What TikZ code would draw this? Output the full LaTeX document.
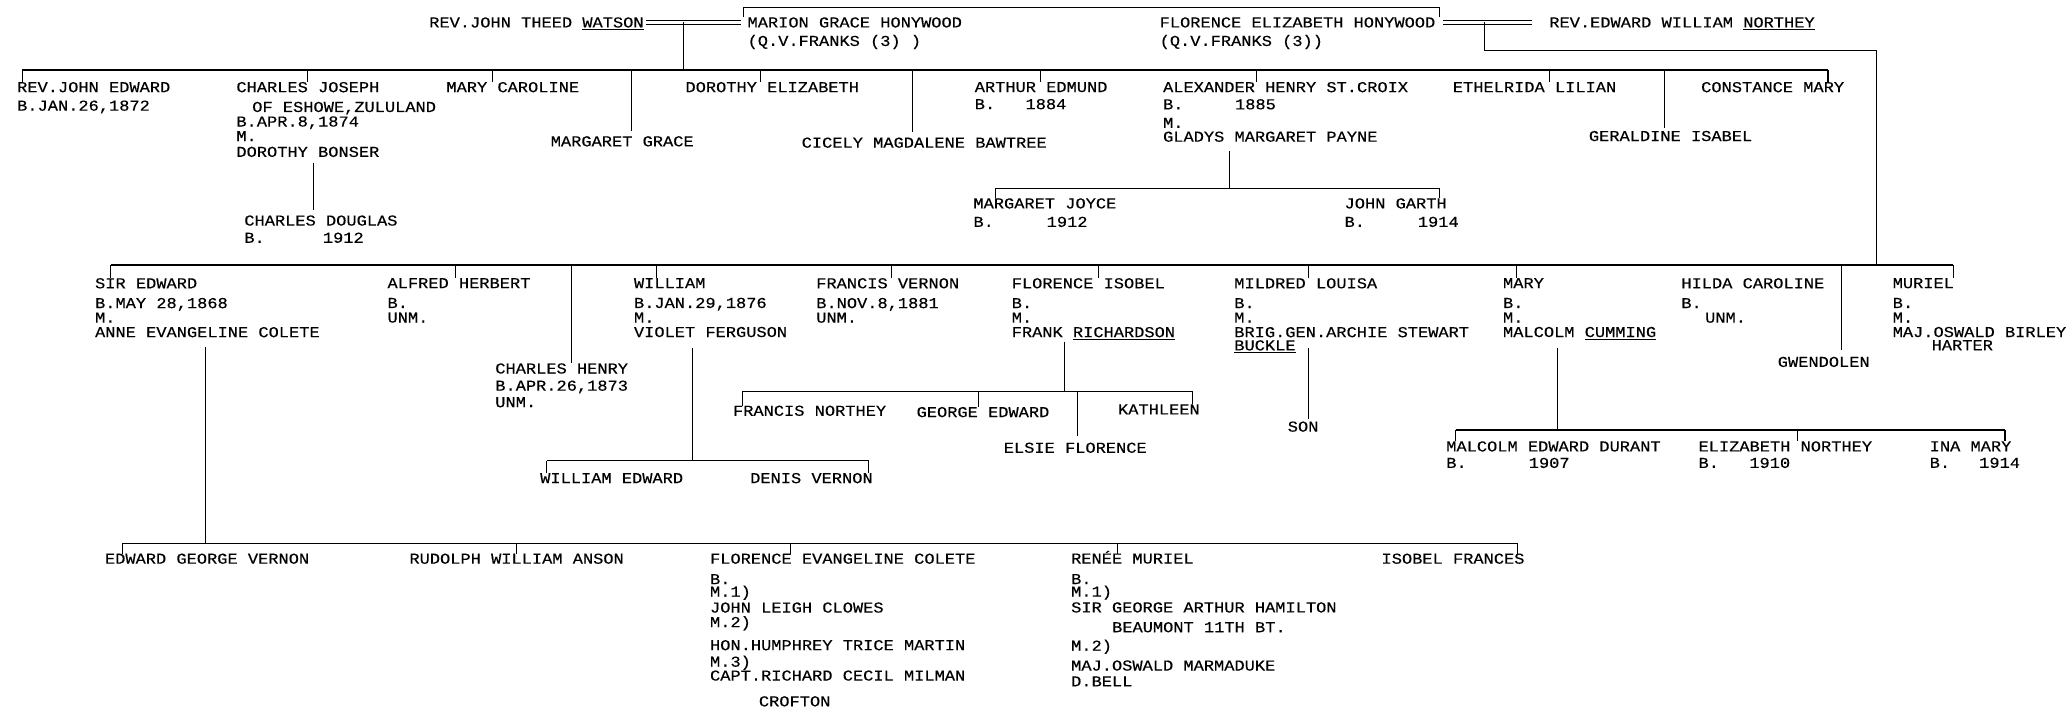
\documentclass[tikz,border=0pt]{standalone}
\usepackage{fontspec}
\newfontfamily\chartfont{Liberation Mono}[FakeStretch=1.12,FakeBold=0.3]
\usetikzlibrary{calc}
\tikzset{
  pers/.style={anchor=north west,inner sep=0pt,outer sep=0pt,align=left,yshift=3.9pt,
               font=\chartfont\fontsize{11.5}{11}\selectfont,
               execute at begin node=\strut},
  bar/.style ={line width=1.2pt},
  con/.style ={line width=.8pt},
  marr/.style={double,double distance=1.6pt,line width=.8pt},
}
\begin{document}
\begin{tikzpicture}[x=1pt,y=-1pt]
  \useasboundingbox (0,0) rectangle (1568,538);
  % parents
  \node[pers] (watson)  at (325,17)  {REV.JOHN THEED \underline{WATSON}};
  \node[pers] (marion)  at (566,17)  {MARION GRACE HONYWOOD\\[3pt](Q.V.FRANKS (3) )};
  \node[pers] (flo)     at (878,17)  {FLORENCE ELIZABETH HONYWOOD\\[3pt](Q.V.FRANKS (3))};
  \node[pers] (northey) at (1173,17) {REV.EDWARD WILLIAM \underline{NORTHEY}};
  \coordinate (wm) at (517.5,17);
  \coordinate (nm) at (1124,17);
  \draw[marr,shorten <=2pt,shorten >=5pt] (watson.east |- wm) -- (marion.west |- wm);
  \draw[marr,shorten <=6pt,shorten >=13pt] (flo.east |- nm) -- (northey.west |- nm);
  \draw[con] ([xshift=-3pt]marion.north west) -- ++(0,-7.5) -| ([xshift=3pt]flo.north east);

  % Watson children
  \node[pers] (rje) at (13,66)    {REV.JOHN EDWARD\\[3pt]B.JAN.26,1872};
  \node[pers] (cj)  at (179,66)   {CHARLES JOSEPH\\[4pt]\hspace*{12pt}OF ESHOWE,ZULULAND\\B.APR.8,1874\\M.\\[1pt]DOROTHY BONSER};
  \node[pers] (cd)  at (185,167)  {CHARLES DOUGLAS\\[2pt]B.\hspace*{44pt}1912};
  \node[pers] (mc)  at (338,66)   {MARY CAROLINE};
  \node[pers] (mg)  at (417,107)  {MARGARET GRACE};
  \node[pers] (de)  at (519,66)   {DOROTHY ELIZABETH};
  \node[pers] (cmb) at (607,108)  {CICELY MAGDALENE BAWTREE};
  \node[pers] (ae)  at (738,66)   {ARTHUR EDMUND\\[2pt]B.\hspace*{23pt}1884};
  \node[pers] (ahs) at (880.6,66) {ALEXANDER HENRY ST.CROIX\\[2pt]B.\hspace*{39pt}1885\\[3pt]M.\\[-0.5pt]GLADYS MARGARET PAYNE};
  \node[pers] (mj)  at (737,154)  {MARGARET JOYCE\\[3pt]B.\hspace*{40pt}1912};
  \node[pers] (jg)  at (1018,154) {JOHN GARTH\\[3pt]B.\hspace*{40pt}1914};
  \node[pers] (el)  at (1100,66)  {ETHELRIDA LILIAN};
  \node[pers] (gi)  at (1203,103) {GERALDINE ISABEL};
  \node[pers] (cm)  at (1288,66)  {CONSTANCE MARY};

  \coordinate (b1l) at (17,53);
  \coordinate (b1r) at (1384,53);
  \draw[con] (wm) -- (wm |- b1l);
  \draw[bar] (b1l) -- (b1r);
  \foreach \x/\n in {17/rje,233/cj,373/mc,576/de,788/ae,951/ahs,1173.5/el,1384/cm}{
    \coordinate (tk) at (\x,53);
    \draw[con] (tk) -- (tk |- \n.north);
  }
  \foreach \x/\n/\s in {478/mg/4pt,691/cmb/4pt,1260/gi/2pt}{
    \coordinate (tk) at (\x,53);
    \draw[con,shorten >=\s] (tk) -- (tk |- \n.north);
  }
  \coordinate (cjd) at (237,0);
  \draw[con,shorten <=1pt,shorten >=4pt] (cjd |- cj.south) -- (cjd |- cd.north);
  \coordinate (ahd) at (931,142.6);
  \draw[con,shorten <=4pt] (ahd |- ahs.south) -- (ahd);
  \draw[bar] (754,142.6) coordinate (ab1) -- (1089.6,142.6) coordinate (ab2);
  \draw[con] (ab1) -- (ab1 |- mj.north);
  \draw[con] (ab2) -- (ab2 |- jg.north);

  % Northey children
  \node[pers] (se)  at (72,214.5)    {SIR EDWARD\\[4pt]B.MAY 28,1868\\M.\\ANNE EVANGELINE COLETE};
  \node[pers] (ah)  at (293.4,214.5) {ALFRED HERBERT\\[4pt]B.\\UNM.};
  \node[pers] (ch)  at (375,279)     {CHARLES HENRY\\[2pt]B.APR.26,1873\\[1.5pt]UNM.};
  \node[pers] (wi)  at (480,214.5)   {WILLIAM\\[4pt]B.JAN.29,1876\\M.\\VIOLET FERGUSON};
  \node[pers] (we)  at (409,362)     {WILLIAM EDWARD};
  \node[pers] (dv)  at (568,362)     {DENIS VERNON};
  \node[pers] (fv)  at (618,214.5)   {FRANCIS VERNON\\[4pt]B.NOV.8,1881\\UNM.};
  \node[pers] (fi)  at (766,214.5)   {FLORENCE ISOBEL\\[4pt]B.\\M.\\FRANK \underline{RICHARDSON}};
  \node[pers] (fn)  at (555,311)     {FRANCIS NORTHEY};
  \node[pers] (ge)  at (694,312)     {GEORGE EDWARD};
  \node[pers] (ka)  at (846.5,310)   {KATHLEEN};
  \node[pers] (ef)  at (760,339)     {ELSIE FLORENCE};
  \node[pers] (ml)  at (934.5,214.5) {MILDRED LOUISA\\[4pt]B.\\M.\\BRIG.GEN.ARCHIE STEWART\\[-1pt]\underline{BUCKLE}};
  \node[pers] (son) at (975,323)     {SON};
  \node[pers] (ma)  at (1138,214.5)  {MARY\\[4pt]B.\\M.\\MALCOLM \underline{CUMMING}};
  \node[pers] (med) at (1095,338)    {MALCOLM EDWARD DURANT\\[1.5pt]B.\hspace*{47pt}1907};
  \node[pers] (en)  at (1286,338)    {ELIZABETH NORTHEY\\[1.5pt]B.\hspace*{23pt}1910};
  \node[pers] (im)  at (1461,338)    {INA MARY\\[1.5pt]B.\hspace*{22pt}1914};
  \node[pers] (hc)  at (1273,214.5)  {HILDA CAROLINE\\[4pt]B.\\\hspace*{18pt}UNM.};
  \node[pers] (gw)  at (1346,274)    {GWENDOLEN};
  \node[pers] (mu)  at (1433,214.5)  {MURIEL\\[4pt]B.\\M.\\MAJ.OSWALD BIRLEY\\[-1pt]\hspace*{29.5pt}HARTER};

  \coordinate (b2l) at (84,200.5);
  \coordinate (b2r) at (1479,200.5);
  \draw[con] (nm) -- ++(0,21) -| (1421,200.5);
  \draw[bar] (b2l) -- (b2r);
  \foreach \x/\n in {84/se,344.7/ah,497/wi,674.7/fv,831.8/fi,990.7/ml,1148/ma,1479/mu}{
    \coordinate (tk) at (\x,200.5);
    \draw[con] (tk) -- (tk |- \n.north);
  }
  \foreach \x/\n/\s in {432.6/ch/0pt,1394/gw/5pt}{
    \coordinate (tk) at (\x,200.5);
    \draw[con,shorten >=\s] (tk) -- (tk |- \n.north);
  }
  % William
  \coordinate (wid) at (524,348.8);
  \draw[con,shorten <=5pt] (wid |- wi.south) -- (wid);
  \draw[bar] (414,348.8) coordinate (wb1) -- (657.7,348.8) coordinate (wb2);
  \draw[con] (wb1) -- (wb1 |- we.north);
  \draw[con] (wb2) -- (wb2 |- dv.north);
  % Florence Isobel
  \coordinate (fid) at (806,296.5);
  \draw[con] (fid |- fi.south) -- (fid);
  \draw[bar] (562,296.5) coordinate (fb1) -- (903,296.5) coordinate (fb3);
  \coordinate (fb2) at (741,296.5);
  \coordinate (fb4) at (815.5,296.5);
  \draw[con] (fb1) -- (fb1 |- fn.north);
  \draw[con] (fb2) -- (fb2 |- ge.north);
  \draw[con] (fb3) -- (fb3 |- ka.north);
  \draw[con,shorten >=5pt] (fb4) -- (fb4 |- ef.north);
  % Mildred
  \coordinate (mld) at (990.7,0);
  \draw[con,shorten <=-5pt,shorten >=2pt] (mld |- ml.south) -- (mld |- son.north);
  % Mary
  \coordinate (mad) at (1179,325.6);
  \draw[con,shorten <=5pt] (mad |- ma.south) -- (mad);
  \draw[bar] (1102,325.6) coordinate (mb1) -- (1518,325.6) coordinate (mb3);
  \coordinate (mb2) at (1361,325.6);
  \draw[con] (mb1) -- (mb1 |- med.north);
  \draw[con] (mb2) -- (mb2 |- en.north);
  \draw[con] (mb3) -- (mb3 |- im.north);

  % Sir Edward's children
  \node[pers] (egv) at (79.5,423) {EDWARD GEORGE VERNON};
  \node[pers] (rwa) at (310,423)  {RUDOLPH WILLIAM ANSON};
  \node[pers] (fec) at (537.6,423) {FLORENCE EVANGELINE COLETE\\[4.5pt]B.\\[-1.5pt]M.1)\\[1pt]JOHN LEIGH CLOWES\\M.2)\\[6.5pt]HON.HUMPHREY TRICE MARTIN\\[1.5pt]M.3)\\[-0.5pt]CAPT.RICHARD CECIL MILMAN\\[8.5pt]\hspace*{37pt}CROFTON};
  \node[pers] (rm)  at (811,423)  {REN\smash{É}E MURIEL\\[4.5pt]B.\\[-1.5pt]M.1)\\[1pt]SIR GEORGE ARTHUR HAMILTON\\[4pt]\hspace*{31pt}BEAUMONT 11TH BT.\\[3pt]M.2)\\[4pt]MAJ.OSWALD MARMADUKE\\[1pt]D.BELL};
  \node[pers] (isf) at (1046,423) {ISOBEL FRANCES};

  \coordinate (sed) at (155.5,411.4);
  \draw[con,shorten <=4pt] (sed |- se.south) -- (sed);
  \draw[bar] (93,411.4) -- (1149,411.4);
  \foreach \x/\n in {93/egv,391.4/rwa,598.6/fec,846/rm,1149/isf}{
    \coordinate (tk) at (\x,411.4);
    \draw[con] (tk) -- (tk |- \n.north);
  }
\end{tikzpicture}
\end{document}
